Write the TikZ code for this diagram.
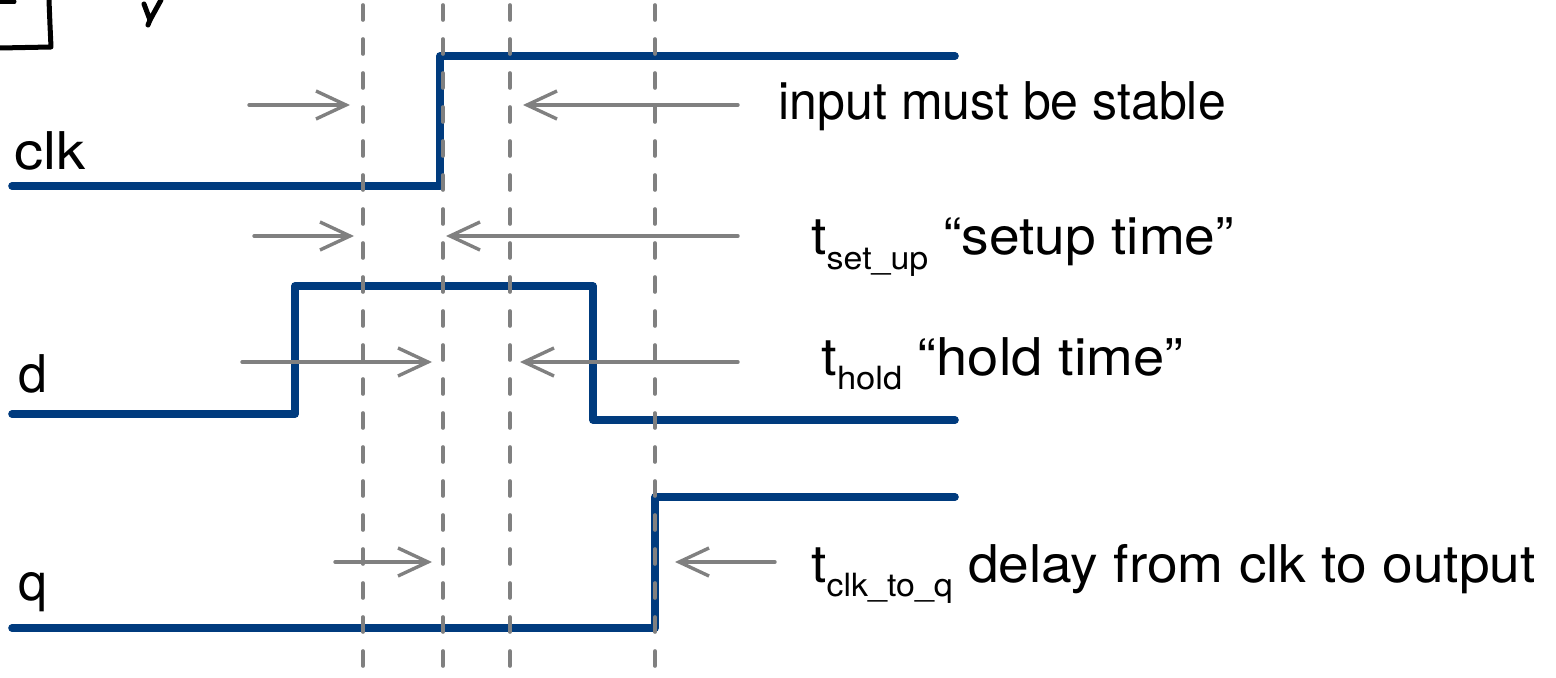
\documentclass[tikz,border=0pt]{standalone}
\usepackage{fontspec}
\setmainfont{TeX Gyre Heros}
\usetikzlibrary{arrows.meta}
\definecolor{wave}{HTML}{003B7E}
\definecolor{guide}{HTML}{808080}
\tikzset{
  wavel/.style={draw=wave,line width=3.8pt,line join=round,line cap=round},
  dashv/.style={draw=guide,line width=1.8pt,dash pattern=on 7.5pt off 9.5pt,line cap=round},
  garrow/.style={draw=guide,line width=1.7pt,line cap=round,-{Straight Barb[length=15pt,width=14pt,line width=1.7pt]}},
  lbl/.style={anchor=base west,inner sep=0pt,font=\fontsize{26}{31}\selectfont},
  sketch/.style={draw=black,line width=2.5pt,line cap=round,line join=round}
}
\newcommand{\sbs}[1]{\raisebox{-0.55ex}{\fontsize{16}{19}\selectfont #1}}
\begin{document}
\begin{tikzpicture}[x=0.5pt,y=-0.5pt]
\useasboundingbox (0,0) rectangle (1556,678);
% sketch fragments
\draw[sketch] (0,2) -- (14,2);
\draw[sketch] (49,0) -- (50,25) -- (51,47) -- (0,48);
\draw[sketch] (144,4) -- (150,20) -- (161,0);
\draw[sketch] (150,20) -- (148,25);
% waveforms
\coordinate (clk0) at (12,186); \coordinate (clk1) at (440,186);
\coordinate (clk2) at (440,56); \coordinate (clk3) at (955,56);
\draw[wavel] (clk0) -- (clk1) -- (clk2) -- (clk3);
\coordinate (d0) at (12,414); \coordinate (d1) at (295,414);
\coordinate (d2) at (295,286); \coordinate (d3) at (593,286);
\coordinate (d4) at (593,420); \coordinate (d5) at (955,420);
\draw[wavel] (d0) -- (d1) -- (d2) -- (d3) -- (d4) -- (d5);
\coordinate (q0) at (12,628); \coordinate (q1) at (655,628);
\coordinate (q2) at (655,497); \coordinate (q3) at (955,497);
\draw[wavel] (q0) -- (q1) -- (q2) -- (q3);
% signal labels
\node[lbl] (lclk) at (14,170) {\scalebox{1.12}[1]{clk}};
\node[lbl] (ld) at (18,392) {d};
\node[lbl] (lq) at (18,600) {q};
% arrows
\coordinate (r1s) at (249,105); \coordinate (r1e) at (350,105);
\coordinate (l1s) at (738,105); \coordinate (l1e) at (523,105);
\draw[garrow] (r1s) -- (r1e);
\draw[garrow] (l1s) -- (l1e);
\coordinate (r2s) at (254,236); \coordinate (r2e) at (354,236);
\coordinate (l2s) at (738,236); \coordinate (l2e) at (446,236);
\draw[garrow] (r2s) -- (r2e);
\draw[garrow] (l2s) -- (l2e);
\coordinate (r3s) at (242,362); \coordinate (r3e) at (432,362);
\coordinate (l3s) at (738,362); \coordinate (l3e) at (520,362);
\draw[garrow] (r3s) -- (r3e);
\draw[garrow] (l3s) -- (l3e);
\coordinate (r4s) at (335,562); \coordinate (r4e) at (432,562);
\coordinate (l4s) at (775,562); \coordinate (l4e) at (675,562);
\draw[garrow] (r4s) -- (r4e);
\draw[garrow] (l4s) -- (l4e);
% dashed guide lines (on top)
\foreach \x/\n in {363/a,443/b,510/c,655/e}{
  \coordinate (\n top) at (\x,5);
  \coordinate (\n bot) at (\x,680);
  \draw[dashv] (\n top) -- (\n bot);
}
% annotations
\node[lbl] (t1) at (778,120) {\scalebox{0.962}[1]{input must be stable}};
\node[lbl] (t2) at (811,255) {\scalebox{1.06}[1]{t\sbs{set\_up} “setup time”}};
\node[lbl] (t3) at (821,375) {\scalebox{1.08}[1]{t\sbs{hold} “hold time”}};
\node[lbl] (t4) at (811,582) {\scalebox{1.06}[1]{t\sbs{clk\_to\_q} delay from clk to output}};
\end{tikzpicture}
\end{document}
